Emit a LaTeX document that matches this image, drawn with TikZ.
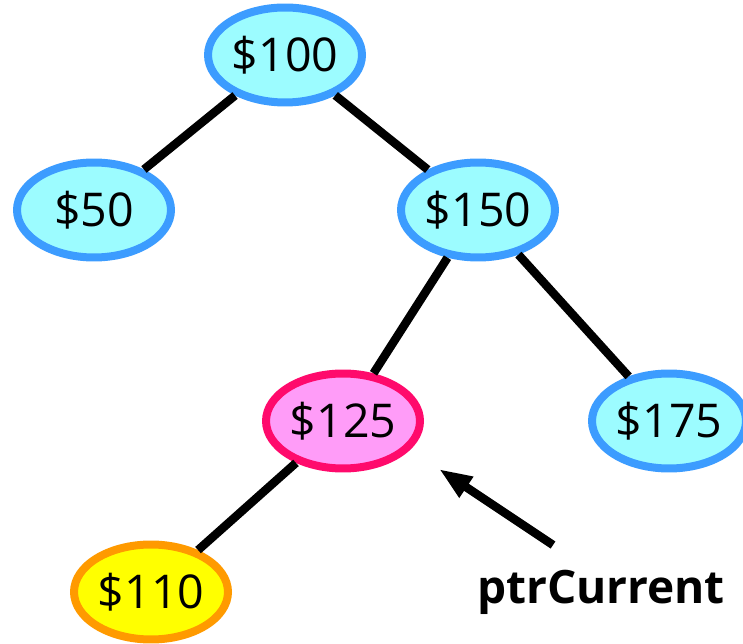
\documentclass[tikz,border=0pt]{standalone}
\usepackage{fontspec}
\setmainfont{Open Sans}
\usetikzlibrary{shapes.geometric}
\usetikzlibrary{arrows.meta}

\definecolor{skyfill}{HTML}{9CFCFF}
\definecolor{skyline}{HTML}{3C9CFF}
\definecolor{pinkfill}{HTML}{FF9CF8}
\definecolor{pinkline}{HTML}{FF0A6C}
\definecolor{goldfill}{HTML}{FFFF00}
\definecolor{goldline}{HTML}{FF9A00}

\tikzset{
	money/.style={shape=ellipse, draw=skyline, fill=skyfill, line width=.16cm,
		minimum width=3.08cm, minimum height=1.9cm, inner sep=0pt,
		font=\fontsize{26.5}{30}\selectfont},
	current/.style={money, draw=pinkline, fill=pinkfill},
	found/.style={money, draw=goldline, fill=goldfill},
	branch/.style={line width=.17cm},
}

\begin{document}
\begin{tikzpicture}[x=.02cm, y=-.02cm]
				\useasboundingbox (0,0) rectangle (743,644);
				% the tree
				\node[money]   (n100) at (285, 55) {\$100};
				\node[money]   (n50)  at ( 94,210) {\$50};
				\node[money]   (n150) at (478,210) {\$150};
				\node[current] (n125) at (343,421) {\$125};
				\node[money]   (n175) at (669,421) {\$175};
				\node[found]   (n110) at (151,592) {\$110};
				\begin{scope}[branch]
					\draw (n100) -- (n50);
					\draw (n100) -- (n150);
					\draw (n150) -- (n125);
					\draw (n150) -- (n175);
					\draw (n125) -- (n110);
				\end{scope}
				% pointer label
				\node[anchor=base, font=\fontsize{26.2}{30}\selectfont\bfseries] (ptr) at (601,603) {ptrCurrent};
				\coordinate (tail) at (553,545);
				\coordinate (tip)  at (439,469);
				\draw[branch, -{Triangle[length=.66cm, width=.46cm]}] (tail) -- (tip);
			\end{tikzpicture}
\end{document}
